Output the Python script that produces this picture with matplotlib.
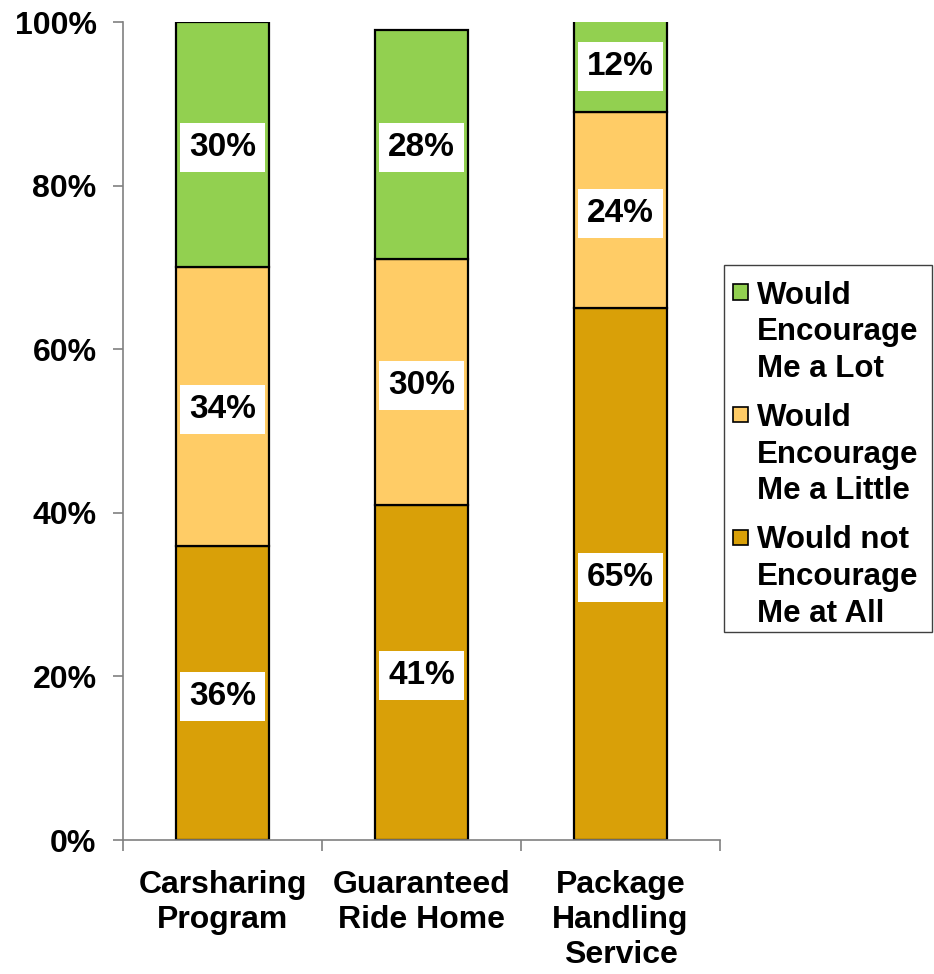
import numpy as np
import matplotlib
matplotlib.use('Agg')
import matplotlib.pyplot as plt
from matplotlib.patches import Rectangle

categories = ['Carsharing\nProgram', 'Guaranteed\nRide Home', 'Package\nHandling\nService']
not_at_all = [36, 41, 65]
a_little = [34, 30, 24]
a_lot = [30, 28, 12]
series_names = ['Would\nEncourage\nMe a Lot', 'Would\nEncourage\nMe a Little', 'Would not\nEncourage\nMe at All']
yticks = [0, 20, 40, 60, 80, 100]

col_lot = '#92D050'
col_little = '#FFCC66'
col_not = '#D9A008'

plt.rcParams['font.family'] = ['Liberation Sans', 'DejaVu Sans']

W, H = 934, 974
fig = plt.figure(figsize=(W / 100, H / 100), dpi=100)
ax = fig.add_axes([123 / W, 1 - 840 / H, (720 - 123) / W, (840 - 22) / H])

x = np.arange(len(categories))
w = 0.47
bottoms = np.zeros(len(categories))
for vals, col in [(not_at_all, col_not), (a_little, col_little), (a_lot, col_lot)]:
    ax.bar(x, vals, w, bottom=bottoms, color=col, edgecolor='black', linewidth=1.6, zorder=2)
    for i, v in enumerate(vals):
        ax.text(x[i], bottoms[i] + v / 2 - 0.4, '%d%%' % v, ha='center', va='center',
                fontsize=24, fontweight='bold', zorder=4,
                bbox=dict(facecolor='white', edgecolor='none', pad=6.5))
    bottoms += np.array(vals)

ax.set_xlim(-0.5, 2.5)
ax.set_ylim(0, 100)
ax.set_yticks(yticks)
ax.set_yticklabels(['%d%%' % t for t in yticks], fontsize=23, fontweight='bold')
ax.tick_params(axis='y', length=7, width=1.2, color='#808080', pad=12)
ax.set_xticks([-0.5, 0.5, 1.5, 2.5])
ax.set_xticklabels([])
ax.tick_params(axis='x', length=8, width=1.2, color='#808080')
for i, c in enumerate(categories):
    ax.text(x[i], -3.7, c, ha='center', va='top', fontsize=23, fontweight='bold',
            linespacing=1.22)

for s in ['top', 'right']:
    ax.spines[s].set_visible(False)
for s in ['left', 'bottom']:
    ax.spines[s].set_color('#808080')
    ax.spines[s].set_linewidth(1.2)

# legend drawn by hand so the swatch sits next to the first line of each entry
fig.patches.append(Rectangle((724 / W, 1 - 632 / H), (932 - 724) / W, (632 - 265) / H,
                             transform=fig.transFigure, facecolor='white',
                             edgecolor='#404040', linewidth=1.0))
for i, (name, col) in enumerate(zip(series_names, [col_lot, col_little, col_not])):
    y0 = 292 + 122.5 * i
    fig.patches.append(Rectangle((733 / W, 1 - (y0 + 7.5) / H), 15 / W, 15 / H,
                                 transform=fig.transFigure, facecolor=col,
                                 edgecolor='black', linewidth=1.2))
    for j, line in enumerate(name.split('\n')):
        fig.text(757 / W, 1 - (y0 + 36.7 * j) / H, line, ha='left', va='center_baseline',
                 fontsize=22.5, fontweight='bold')

fig.savefig('out.png', dpi=100)
